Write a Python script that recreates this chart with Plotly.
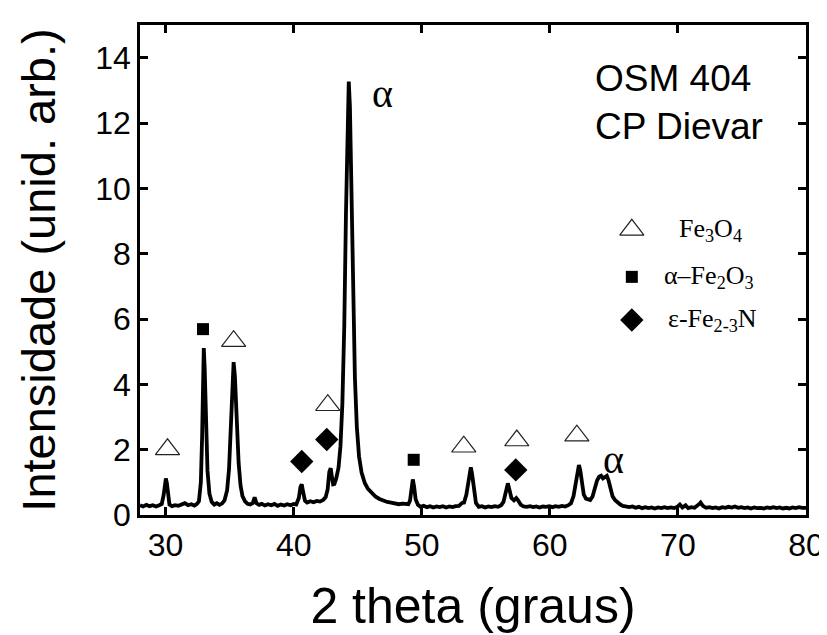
import plotly.graph_objects as go

# ---- XRD pattern ----
two_theta = [
    28.0, 28.25, 28.5, 28.75, 29.0, 29.25, 29.5, 29.7, 29.85, 29.95, 30.02, 30.1, 30.2, 30.3, 30.5,
    30.75, 31.0, 31.25, 31.5, 31.75, 32.0, 32.25, 32.45,
    32.6, 32.75, 32.85, 32.92, 32.98, 33.05, 33.15, 33.27, 33.42, 33.6, 33.8,
    34.0, 34.2, 34.4, 34.6, 34.8, 34.95, 35.1, 35.22, 35.31, 35.41, 35.54, 35.7, 35.85, 36.0, 36.2,
    36.4, 36.6, 36.8, 36.95, 37.1, 37.3,
    37.5, 37.75, 38.0, 38.25, 38.5, 38.75, 39.0, 39.25, 39.5, 39.75, 40.0, 40.2,
    40.4, 40.53, 40.63, 40.73, 40.88, 41.05,
    41.3, 41.55, 41.8, 42.05, 42.3, 42.5,
    42.65, 42.78, 42.89, 42.98, 43.08, 43.18, 43.32, 43.5, 43.65, 43.8,
    43.95, 44.08, 44.2, 44.30, 44.39, 44.5, 44.63, 44.78, 44.93, 45.1,
    45.3, 45.55, 45.8, 46.1, 46.4, 46.7, 47.0, 47.3, 47.6, 47.9, 48.2, 48.5, 48.75, 48.95,
    49.08, 49.18, 49.3, 49.4, 49.52, 49.7, 49.9,
    50.15, 50.4, 50.65, 50.9, 51.15, 51.4, 51.65, 51.9, 52.15, 52.4, 52.65, 52.9, 53.15, 53.3,
    53.48, 53.62, 53.75, 53.83, 53.93, 54.06, 54.23, 54.45, 54.7,
    54.95, 55.2, 55.45, 55.7, 55.95, 56.2,
    56.38, 56.5, 56.62, 56.72, 56.84, 57.0, 57.2, 57.38, 57.52, 57.72, 57.95,
    58.2, 58.45, 58.7, 58.95, 59.2, 59.45, 59.7, 59.95, 60.2, 60.45, 60.7, 60.95, 61.2, 61.45, 61.65,
    61.85, 62.02, 62.15, 62.27, 62.37, 62.5, 62.65, 62.82, 63.0, 63.15,
    63.33, 63.5, 63.68, 63.85, 64.0, 64.15, 64.3, 64.45, 64.57, 64.72,
    64.9, 65.1, 65.3, 65.5, 65.7,
    65.95, 66.2, 66.45, 66.7, 66.95, 67.2, 67.45, 67.7, 67.95, 68.2,
    68.45, 68.7, 68.95, 69.2, 69.45, 69.7, 69.95, 70.15, 70.35, 70.6,
    70.8, 71.05, 71.3, 71.5, 71.65, 71.77, 71.95, 72.2, 72.45, 72.7,
    72.95, 73.2, 73.45, 73.7, 73.95, 74.2, 74.45, 74.7, 74.95, 75.2,
    75.45, 75.7, 75.95, 76.2, 76.45, 76.7, 76.95, 77.2, 77.45, 77.7,
    77.95, 78.2, 78.45, 78.7, 78.95, 79.2, 79.45, 79.7, 80.0,
]
intensity = [
    0.30, 0.26, 0.31, 0.27, 0.30, 0.26, 0.30, 0.34, 0.62, 1.00, 1.12, 0.97, 0.55, 0.32, 0.27,
    0.30, 0.28, 0.32, 0.36, 0.30, 0.33, 0.29, 0.34,
    0.42, 1.0, 2.4, 4.3, 5.11, 4.5, 2.8, 1.35, 0.65, 0.40, 0.32,
    0.36, 0.31, 0.35, 0.45, 0.75, 1.4, 2.7, 4.05, 4.68, 4.25, 2.9, 1.6, 0.9, 0.58, 0.42,
    0.34, 0.32, 0.36, 0.54, 0.36, 0.31,
    0.34, 0.29, 0.33, 0.30, 0.34, 0.28, 0.32, 0.29, 0.33, 0.30, 0.34, 0.32,
    0.52, 0.86, 0.94, 0.72, 0.44, 0.38,
    0.42, 0.39, 0.43, 0.41, 0.46, 0.55,
    0.78, 1.32, 1.43, 1.18, 0.94, 0.95, 1.12, 1.45, 2.1, 3.4,
    5.8, 9.2, 12.3, 13.27, 12.5, 9.8, 6.8, 4.2, 2.7, 1.8,
    1.3, 0.98, 0.80, 0.66, 0.56, 0.49, 0.44, 0.40, 0.38, 0.36, 0.33, 0.35, 0.35, 0.33,
    0.44, 0.78, 1.09, 0.88, 0.48, 0.31, 0.25,
    0.28, 0.24, 0.27, 0.23, 0.26, 0.24, 0.27, 0.23, 0.26, 0.24, 0.27, 0.28, 0.37, 0.38,
    0.62, 1.02, 1.4, 1.46, 1.25, 0.75, 0.37, 0.25, 0.27,
    0.23, 0.26, 0.24, 0.27, 0.25, 0.30,
    0.40, 0.62, 0.92, 0.97, 0.78, 0.52, 0.45, 0.52, 0.45, 0.32, 0.26,
    0.25, 0.27, 0.24, 0.26, 0.23, 0.26, 0.25, 0.27, 0.24, 0.27, 0.25, 0.28, 0.26, 0.30, 0.36,
    0.58, 0.98, 1.38, 1.53, 1.38, 0.95, 0.62, 0.50, 0.46, 0.46,
    0.56, 0.78, 1.05, 1.17, 1.2, 1.12, 1.15, 1.2, 1.08, 0.82,
    0.57, 0.45, 0.38, 0.32, 0.28,
    0.27, 0.24, 0.26, 0.22, 0.25, 0.21, 0.24, 0.21, 0.23, 0.20,
    0.23, 0.21, 0.24, 0.21, 0.23, 0.21, 0.25, 0.32, 0.23, 0.30,
    0.21, 0.24, 0.22, 0.27, 0.33, 0.38, 0.28, 0.22, 0.24, 0.21,
    0.23, 0.20, 0.24, 0.22, 0.25, 0.23, 0.26, 0.22, 0.24, 0.21,
    0.23, 0.20, 0.23, 0.21, 0.22, 0.20, 0.23, 0.21, 0.24, 0.21,
    0.23, 0.20, 0.22, 0.20, 0.23, 0.21, 0.24, 0.22, 0.22,
]
assert len(two_theta) == len(intensity), (len(two_theta), len(intensity))

# ---- phase markers above peaks ----
fe3o4_x = [30.15, 35.31, 42.66, 53.28, 57.42, 62.11]
fe3o4_y = [2.01, 5.32, 3.36, 2.09, 2.28, 2.43]
hematite_x = [32.92, 49.37]
hematite_y = [5.69, 1.69]
nitride_x = [40.63, 42.58, 57.34]
nitride_y = [1.64, 2.31, 1.38]

alpha_x = [46.9, 65.0]
alpha_y = [12.9, 1.7]

legend_labels = ["Fe<sub>3</sub>O<sub>4</sub>", "α–Fe<sub>2</sub>O<sub>3</sub>", "ε-Fe<sub>2-3</sub>N"]
legend_sym_x = 66.4
legend_sym_y = [8.73, 7.29, 5.97]
legend_txt_x = [69.9, 68.75, 69.05]

sample_lines = ["OSM 404", "CP Dievar"]
sample_y = [13.35, 11.9]

x_ticks = [30, 40, 50, 60, 70, 80]
y_ticks = [0, 2, 4, 6, 8, 10, 12, 14]

SANS = "Liberation Sans, Arial, sans-serif"
SERIF = "Liberation Serif, Times New Roman, serif"

fig = go.Figure()
fig.add_trace(go.Scatter(x=two_theta, y=intensity, mode="lines",
                         line=dict(color="black", width=3.8), showlegend=False, hoverinfo="skip"))

tri = dict(symbol="triangle-up-open", size=21, color="#222", line=dict(width=1.2, color="#222"))
sq = dict(symbol="square", size=12, color="black")
dia = dict(symbol="diamond", size=18, color="black")

fig.add_trace(go.Scatter(x=fe3o4_x, y=fe3o4_y, mode="markers", marker=tri, showlegend=False))
fig.add_trace(go.Scatter(x=hematite_x, y=hematite_y, mode="markers", marker=sq, showlegend=False))
fig.add_trace(go.Scatter(x=nitride_x, y=nitride_y, mode="markers", marker=dia, showlegend=False))

# legend symbols
for m, yy in zip([tri, sq, dia], legend_sym_y):
    fig.add_trace(go.Scatter(x=[legend_sym_x], y=[yy], mode="markers", marker=m, showlegend=False))

for lab, xx, yy in zip(legend_labels, legend_txt_x, legend_sym_y):
    fig.add_annotation(x=xx, y=yy, text=lab, showarrow=False, xanchor="left", yanchor="middle",
                       font=dict(family=SERIF, size=26, color="black"))

for ax_, ay_ in zip(alpha_x, alpha_y):
    fig.add_annotation(x=ax_, y=ay_, text="α", showarrow=False, xanchor="center", yanchor="middle",
                       font=dict(family=SERIF, size=40, color="black"))

for s, yy in zip(sample_lines, sample_y):
    fig.add_annotation(x=63.4, y=yy, text=s, showarrow=False, xanchor="left", yanchor="middle",
                       font=dict(family=SANS, size=37, color="black"))

axis_common = dict(showline=True, linewidth=2.5, linecolor="black", mirror="ticks",
                   ticks="inside", ticklen=8, tickwidth=2.5, tickcolor="black",
                   showgrid=False, zeroline=False, automargin=False,
                   tickfont=dict(family=SANS, size=32, color="black"))

# the page body adds an 8 px margin, so the figure is 8 px smaller than the window
fig.update_layout(
    width=819, height=627,
    margin=dict(l=132, r=21, t=17, b=120),
    paper_bgcolor="white", plot_bgcolor="white",
    xaxis=dict(range=[28, 80], tickvals=x_ticks,
               title=dict(text="2 theta (graus)", font=dict(family=SANS, size=50, color="black"),
                          standoff=26),
               **axis_common),
    yaxis=dict(range=[0, 15], tickvals=y_ticks,
               title=dict(text="Intensidade (unid. arb.)", font=dict(family=SANS, size=47, color="black"),
                          standoff=25),
               **axis_common),
)

fig.write_html("out.html")
